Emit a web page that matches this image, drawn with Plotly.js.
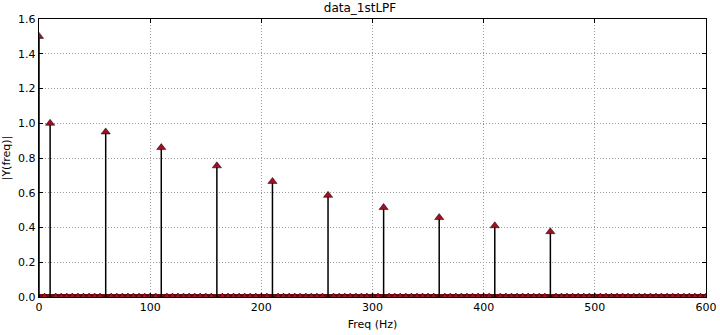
<!DOCTYPE html>
<html>
<head>
<meta charset="utf-8">
<script src="https://cdn.plot.ly/plotly-3.0.1.min.js"></script>
<style>html,body{margin:0;padding:0;background:#fff;}#chart{width:720px;height:335px;}</style>
</head>
<body>
<div id="chart"></div>
<script>
// Frequency bins (Hz) and magnitudes |Y(freq)|
const freq = [0,5,10,15,20,25,30,35,40,45,50,55,60,65,70,75,80,85,90,95,
  100,105,110,115,120,125,130,135,140,145,150,155,160,165,170,175,180,185,190,195,
  200,205,210,215,220,225,230,235,240,245,250,255,260,265,270,275,280,285,290,295,
  300,305,310,315,320,325,330,335,340,345,350,355,360,365,370,375,380,385,390,395,
  400,405,410,415,420,425,430,435,440,445,450,455,460,465,470,475,480,485,490,495,
  500,505,510,515,520,525,530,535,540,545,550,555,560,565,570,575,580,585,590,595,600];
const mag = [1.50,0,1.00,0,0,0,0,0,0,0,0,0,0.95,0,0,0,0,0,0,0,
  0,0,0.86,0,0,0,0,0,0,0,0,0,0.755,0,0,0,0,0,0,0,
  0,0,0.665,0,0,0,0,0,0,0,0,0,0.585,0,0,0,0,0,0,0,
  0,0,0.515,0,0,0,0,0,0,0,0,0,0.457,0,0,0,0,0,0,0,
  0,0,0.41,0,0,0,0,0,0,0,0,0,0.376,0,0,0,0,0,0,0,
  0,0,0,0,0,0,0,0,0,0,0,0,0,0,0,0,0,0,0,0,0];
const titleText = 'data_1stLPF';
const xTitle = 'Freq (Hz)';
const yTitle = '|Y(freq)|';
const zeros = mag.map(() => 0);

const baseline = {
  x: [freq[0], freq[freq.length - 1]], y: [0, 0], type: 'scatter', mode: 'lines',
  line: {color: '#6e0a12', width: 6}, cliponaxis: true, hoverinfo: 'skip'
};
const stems = {
  x: freq, y: mag, type: 'scatter', mode: 'markers',
  marker: {symbol: 'triangle-up', size: 8, color: '#a01020', line: {color: '#000', width: 0.5}},
  error_y: {type: 'data', symmetric: false, array: zeros, arrayminus: mag,
            color: '#000', thickness: 1.5, width: 0},
  cliponaxis: true, hoverinfo: 'x+y'
};

const font = {family: 'DejaVu Sans, sans-serif', size: 11, color: '#000'};
const layout = {
  width: 720, height: 335,
  margin: {l: 39, r: 14, t: 19, b: 38},
  paper_bgcolor: '#fff', plot_bgcolor: '#fff',
  showlegend: false, font: font,
  title: {text: titleText, font: {family: 'DejaVu Sans, sans-serif', size: 12, color: '#000'},
          x: 0.5, xanchor: 'center', y: 0.978, yanchor: 'middle'},
  xaxis: {range: [0, 600], tickvals: [0,100,200,300,400,500,600], ticktext: ['0','100','200','300','400','500','600'],
          showline: true, linecolor: '#000', linewidth: 1.2, mirror: 'ticks',
          ticks: 'inside', ticklen: 4, tickcolor: '#000',
          showgrid: true, gridcolor: '#999', griddash: '1px,2px', gridwidth: 1, zeroline: false,
          title: {text: xTitle, font: font, standoff: 6}},
  yaxis: {range: [0, 1.6], tickvals: [0,0.2,0.4,0.6,0.8,1.0,1.2,1.4,1.6],
          ticktext: ['0.0','0.2','0.4','0.6','0.8','1.0','1.2','1.4','1.6'],
          showline: true, linecolor: '#000', linewidth: 1.2, mirror: 'ticks',
          ticks: 'inside', ticklen: 4, tickcolor: '#000',
          showgrid: true, gridcolor: '#999', griddash: '1px,2px', gridwidth: 1, zeroline: false,
          title: {text: yTitle, font: font, standoff: 6}}
};
Plotly.newPlot('chart', [baseline, stems], layout, {displayModeBar: false, staticPlot: true});
</script>
</body>
</html>
